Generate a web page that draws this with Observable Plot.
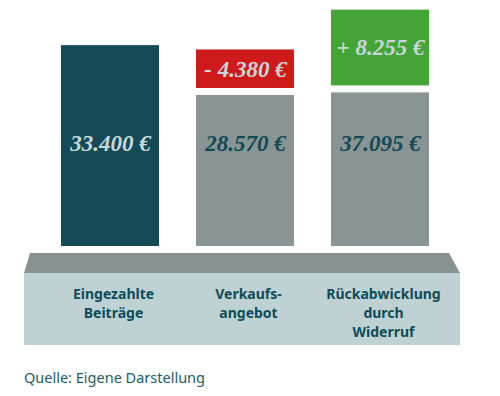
<!DOCTYPE html>
<html>
<head>
<meta charset="utf-8">
<script src="https://cdn.jsdelivr.net/npm/d3@7"></script>
<script src="https://cdn.jsdelivr.net/npm/@observablehq/plot@0.6"></script>
<style>
  html, body { margin: 0; padding: 0; background: #fff; }
  #wrap { position: relative; width: 500px; height: 396px; overflow: hidden; }
  #roof { position: absolute; left: 24px; top: 253px; width: 436px; height: 20px; background: #879393;
          clip-path: polygon(6px 0, 425px 0, 436px 100%, 0 100%); }
  #base { position: absolute; left: 24px; top: 273px; width: 436px; height: 72px; background: #bed2d4; }
  #chart { position: absolute; left: 0; top: 0; }
  #caption { position: absolute; left: 24px; top: 368px; font-family: "Noto Sans", sans-serif; font-size: 14.5px;
             line-height: 18px; color: #1d5c68; }
</style>
</head>
<body>
<div id="wrap">
  <div id="roof"></div>
  <div id="base"></div>
  <div id="chart"></div>
  <div id="caption">Quelle: Eigene Darstellung</div>
</div>
<script>
// Data
const categories = ["Eingezahlte Beiträge", "Verkaufsangebot", "Rückabwicklung durch Widerruf"];
const categoryLabels = ["Eingezahlte\nBeiträge", "Verkaufs-\nangebot", "Rückabwicklung\ndurch\nWiderruf"];
const values = [33400, 28570, 37095];
const changes = [null, -4380, 8255];

const fmt = v => d3.format(",")(Math.abs(v)).replace(/,/g, ".") + " €";

const main = categories.map((c, i) => {
  const v = values[i], ch = changes[i];
  const top = ch == null ? v : Math.min(v, v - ch);
  return {cat: c, value: v, top, kind: ch == null ? "total" : "rest"};
});
const deltas = categories.map((c, i) => {
  const v = values[i], ch = changes[i];
  if (ch == null) return null;
  const lo = Math.min(v, v - ch), hi = Math.max(v, v - ch);
  return {cat: c, change: ch, lo, hi, label: (ch < 0 ? "- " : "+ ") + fmt(ch)};
}).filter(d => d);

const serif = "'Liberation Serif', serif";

const chart = Plot.plot({
  width: 500,
  height: 350,
  marginTop: 0, marginBottom: 104, marginLeft: 0, marginRight: 0,
  x: {domain: categories, range: [60.5, 429.5], paddingInner: 0.2768, paddingOuter: 0, axis: null},
  y: {domain: [12480, 38100], range: [246, 0], clamp: true, axis: null},
  marks: [
    Plot.barY(main.filter(d => d.kind === "total"), {x: "cat", y1: 0, y2: "top", fill: "#134a55"}),
    Plot.barY(main.filter(d => d.kind === "rest"), {x: "cat", y1: 0, y2: "top", fill: "#899595", insetTop: 3.5}),
    Plot.barY(deltas, {x: "cat", y1: "lo", y2: "hi", fill: d => d.change < 0 ? "#cf1a1b" : "#43a536", insetBottom: 3.5}),
    Plot.text(main, {x: "cat", text: d => fmt(d.value), frameAnchor: "top", lineAnchor: "middle", dy: 143,
      fill: d => d.kind === "total" ? "#c6d8db" : "#134a55",
      fontFamily: serif, fontWeight: "bold", fontStyle: "italic", fontSize: 23}),
    Plot.text(deltas, {x: "cat", y: d => (d.lo + d.hi) / 2, dy: -1.75, text: "label", fill: "#c8d6d9",
      fontFamily: serif, fontWeight: "bold", fontStyle: "italic", fontSize: 23}),
    Plot.text(categories, {x: d => d, text: (d, i) => categoryLabels[i], frameAnchor: "bottom", lineAnchor: "top",
      dy: 39, dx: 3, lineHeight: 1.36, fill: "#0f4c59", fontFamily: "'Noto Sans', sans-serif", fontWeight: "bold", fontSize: 14})
  ]
});
chart.style.background = "transparent";
document.getElementById("chart").appendChild(chart);
</script>
</body>
</html>
